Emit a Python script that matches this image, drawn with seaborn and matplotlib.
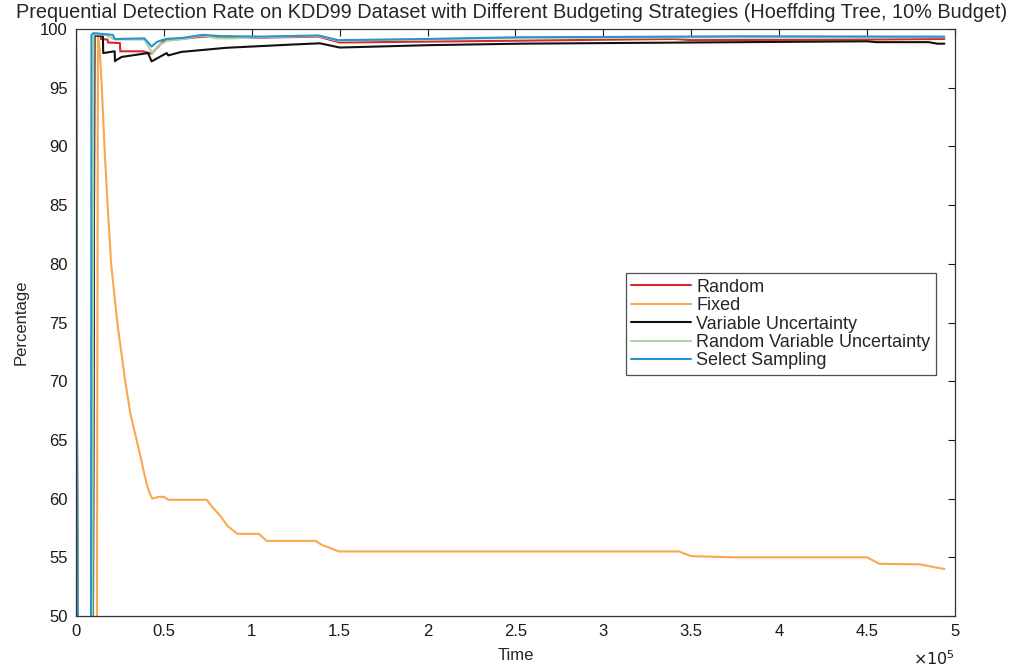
import matplotlib
matplotlib.use("Agg")
import matplotlib.pyplot as plt
from matplotlib.ticker import FuncFormatter
import seaborn as sns
import pandas as pd

# Prequential detection rate (%) per strategy, sampled at the listed time steps
random_t = [0, 1000, 9500, 10500, 14000, 14200, 18000, 18200, 25000, 25200, 38000,
            43000, 50000, 60000, 72000, 100000, 138000, 150000, 250000, 340000,
            350000, 450000, 494000]
random_v = [100, 40, 40, 99.45, 99.4, 99.15, 99.1, 98.85, 98.8, 98.1, 98.1,
            97.9, 99.0, 99.15, 99.35, 99.25, 99.35, 98.85, 99.0, 99.15,
            99.05, 99.1, 99.15]

fixed_t = [0, 1000, 11800, 12500, 13500, 14700, 16200, 18000, 20000, 23500, 28000,
           31000, 34500, 37000, 39000, 40500, 41800, 43400, 47000, 50000,
           52500, 53000, 74300, 78000, 82300, 86000, 91800, 104000, 108500, 136300,
           140000, 149600, 343000, 350000, 375000, 450000, 457000, 480000, 494000]
fixed_v = [100, 40, 40, 99.6, 98.3, 95.0, 90.0, 85.0, 80.0, 75.0, 70.0,
           67.2, 65.0, 63.4, 62.0, 61.1, 60.5, 60.0, 60.15, 60.15,
           59.9, 59.9, 59.9, 59.2, 58.5, 57.7, 57.0, 57.0, 56.4, 56.4,
           56.05, 55.5, 55.5, 55.1, 55.0, 55.0, 54.45, 54.4, 54.0]

var_unc_t = [0, 1000, 9500, 10500, 15300, 15500, 22000, 22200, 22400, 26000, 41000,
             43000, 51600, 52500, 60000, 85700, 123600, 138800, 150000, 200000,
             253000, 350000, 450000, 455000, 485000, 490000, 494000]
var_unc_v = [100, 40, 40, 99.45, 99.4, 97.95, 98.1, 97.25, 97.3, 97.62, 97.95,
             97.24, 97.95, 97.75, 98.05, 98.4, 98.68, 98.78, 98.42, 98.62,
             98.75, 98.85, 98.95, 98.88, 98.88, 98.75, 98.75]

rand_var_unc_t = [0, 1000, 9300, 10000, 17000, 22000, 39000, 43500, 47000, 52000,
                  61000, 72000, 80000, 90000, 105000, 138000, 149000, 253000, 494000]
rand_var_unc_v = [100, 40, 40, 99.55, 99.5, 99.1, 99.1, 97.9, 98.6, 99.0,
                  99.15, 99.45, 99.2, 99.2, 99.3, 99.4, 99.0, 99.25, 99.3]

select_t = [0, 1000, 8500, 8800, 10000, 17000, 21000, 22000, 39000, 43000, 46000,
            51000, 61000, 72000, 82000, 105000, 138000, 149000, 200000, 253000,
            300000, 378000, 450000, 494000]
select_v = [100, 40, 40, 99.5, 99.65, 99.55, 99.5, 99.15, 99.2, 98.5, 98.9,
            99.15, 99.25, 99.5, 99.4, 99.35, 99.45, 99.05, 99.15, 99.3,
            99.32, 99.38, 99.36, 99.35]

strategies = ["Random", "Fixed", "Variable Uncertainty",
              "Random Variable Uncertainty", "Select Sampling"]
colors = ["#D62A2E", "#F9A84E", "#111111", "#A9D8A2", "#2B93D1"]
x_ticks = [0, 0.5e5, 1e5, 1.5e5, 2e5, 2.5e5, 3e5, 3.5e5, 4e5, 4.5e5, 5e5]
y_ticks = [50, 55, 60, 65, 70, 75, 80, 85, 90, 95, 100]

series = [(random_t, random_v), (fixed_t, fixed_v), (var_unc_t, var_unc_v),
          (rand_var_unc_t, rand_var_unc_v), (select_t, select_v)]
frames = []
for name, (t, v) in zip(strategies, series):
    frames.append(pd.DataFrame({"Time": t, "Percentage": v, "Strategy": name}))
df = pd.concat(frames, ignore_index=True)

sns.set_style("white")
plt.rcParams["font.family"] = ["Liberation Sans", "DejaVu Sans"]

fig = plt.figure(figsize=(10.17, 6.68), dpi=100)
ax = fig.add_axes([0.0747, 0.0778, 0.8643, 0.8788])

sns.lineplot(data=df, x="Time", y="Percentage", hue="Strategy",
             hue_order=strategies, palette=colors, estimator=None, sort=False,
             linewidth=1.5, ax=ax)

ax.set_xlim(0, 5e5)
ax.set_ylim(50, 100)
ax.set_xticks(x_ticks)
ax.set_yticks(y_ticks)
ax.xaxis.set_major_formatter(FuncFormatter(lambda x, _: f"{x / 1e5:g}"))
ax.tick_params(direction="in", length=5, width=0.8, top=True, right=True,
               labelsize=12, colors="#1a1a1a", pad=6)
for s in ax.spines.values():
    s.set_color("#333333")
    s.set_linewidth(0.9)

ax.set_xlabel("Time", fontsize=12, labelpad=6)
ax.set_ylabel("Percentage", fontsize=12, labelpad=8)
ax.text(1.0, -0.0835, r"$\times 10^5$", transform=ax.transAxes, ha="right",
        va="baseline", fontsize=11.5, color="#1a1a1a")

fig.suptitle("Prequential Detection Rate on KDD99 Dataset with Different Budgeting "
             "Strategies (Hoeffding Tree, 10% Budget)",
             x=0.503, y=0.996, va="top", fontsize=14.3,
             family=["Liberation Sans Narrow", "Liberation Sans", "DejaVu Sans"])

leg = ax.legend(loc="upper right", bbox_to_anchor=(0.978, 0.584), fontsize=13,
                frameon=True, fancybox=False, edgecolor="#222222",
                handlelength=3.3, handletextpad=0.3, labelspacing=0.08,
                borderpad=0.3, borderaxespad=0)
leg.get_frame().set_linewidth(0.9)
for line in leg.get_lines():
    line.set_linewidth(1.5)

fig.savefig("out.png", dpi=100)
